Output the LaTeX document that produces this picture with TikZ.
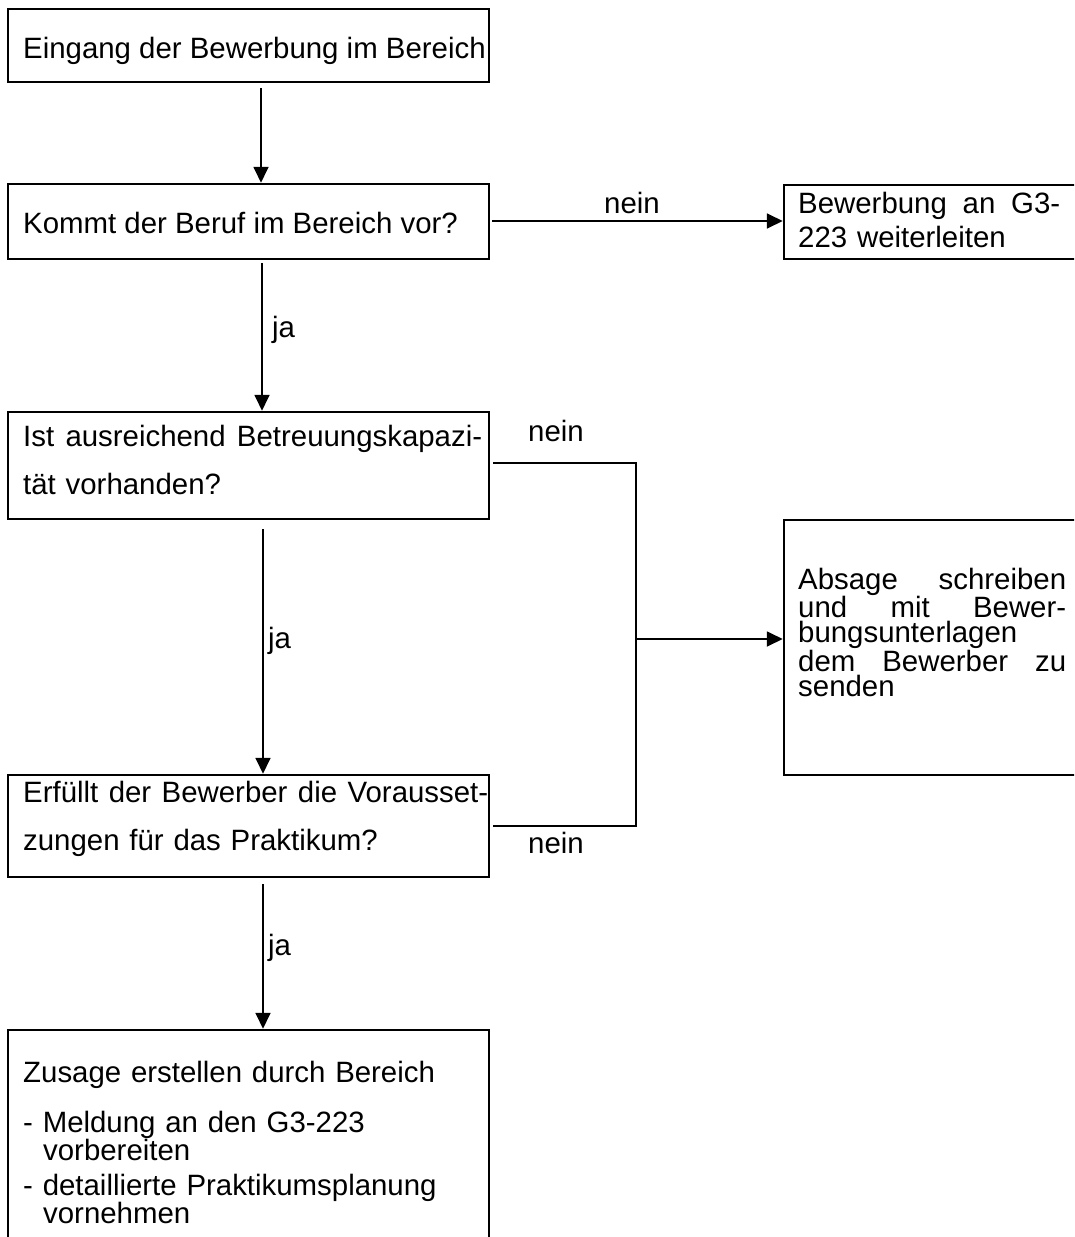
\documentclass[tikz,border=0pt]{standalone}
\usepackage{fontspec}
\setmainfont{Liberation Sans}
\usetikzlibrary{arrows.meta,calc}
\tikzset{
  box/.style={draw, line width=2.5pt, inner sep=0pt},
  txt/.style={inner sep=0pt, anchor=base west, align=left},
  lbl/.style={inner sep=0pt},
  arr/.style={line width=1.8pt, -{Triangle[length=16pt,width=15pt]}},
  conn/.style={line width=1.8pt},
}
\newcommand{\jline}[2]{\leavevmode\hbox to #1{#2}}
\begin{document}
\begin{tikzpicture}[x=1pt,y=-1pt,font=\fontsize{29.4}{34}\selectfont]
\useasboundingbox (0,0) rectangle (1074,1237);
\clip (0,0) rectangle (1074,1237);

% boxes
\node[box, minimum width=481pt, minimum height=73pt]  (b1) at (248.5,45.5) {};
\node[box, minimum width=481pt, minimum height=75pt]  (b2) at (248.5,221.5) {};
\node[box, minimum width=316pt, minimum height=74pt]  (b3) at (942,222) {};
\node[box, minimum width=481pt, minimum height=107pt] (b4) at (248.5,465.5) {};
\node[box, minimum width=481pt, minimum height=102pt] (b5) at (248.5,826) {};
\node[box, minimum width=316pt, minimum height=255pt] (b6) at (942,647.5) {};
\node[box, minimum width=481pt, minimum height=270pt] (b7) at (248.5,1165) {};

% texts
\node[txt] (t1) at (23,58) {Eingang der Bewerbung im Bereich};
\node[txt] (t2) at (23,233) {Kommt der Beruf im Bereich vor?};
\node[txt, text width=264pt, font=\fontsize{29.4}{34}\selectfont] (t3) at (798,213)
  {\jline{262pt}{Bewerbung\hfill an\hfill G3-}\\223 weiterleiten};
\node[txt, text width=462pt, font=\fontsize{29.4}{48}\selectfont] (t4) at (23,446)
  {\jline{459pt}{Ist\hfill ausreichend\hfill Betreuungskapazi-}\\tät vorhanden?};
\node[txt, text width=468pt, font=\fontsize{29.4}{48}\selectfont] (t5) at (23,802)
  {\jline{465pt}{Erfüllt\hfill der\hfill Bewerber\hfill die\hfill Vorausset-}\\zungen für das Praktikum?};
\node[txt, text width=270pt, font=\fontsize{29.4}{25.3}\selectfont] (t6) at (798,589)
  {\jline{268pt}{Absage\hfill schreiben}\\\jline{268pt}{und\hfill mit\hfill Bewer-}\\bungsunterlagen\\\jline{268pt}{dem\hfill Bewerber\hfill zu}\\senden};
\node[txt, text width=462pt, font=\fontsize{29.4}{28}\selectfont] (t7) at (23,1082)
  {Zusage erstellen durch Bereich\\[22pt]- Meldung an den G3-223\\\hspace*{20pt}vorbereiten\\[7pt]- detaillierte Praktikumsplanung\\\hspace*{20pt}vornehmen};

% coordinates
\coordinate (xa) at (261,0);
\coordinate (xb) at (262,0);
\coordinate (xc) at (263,0);
\coordinate (ya) at (0,221);
\coordinate (j1) at (636,463);
\coordinate (j2) at (636,826);
\coordinate (j3) at (636,639);

% connectors
\draw[arr, shorten <=5pt] (b1.south -| xa) -- (b2.north -| xa);
\draw[arr, shorten <=2pt] (b2.east |- ya) -- (b3.west |- ya);
\draw[arr, shorten <=3pt] (b2.south -| xb) -- (b4.north -| xb);
\draw[arr, shorten <=9pt] (b4.south -| xc) -- (b5.north -| xc);
\draw[arr, shorten <=6pt] (b5.south -| xc) -- (b7.north -| xc);
\draw[conn, shorten <=3pt] (b4.east |- j1) -- (j1) -- (j2) -- ($(b5.east |- j2)+(3,0)$);
\draw[arr] (j3) -- (b6.west |- j3);

% labels
\node[lbl, anchor=base] (n1) at (632,213) {nein};
\node[lbl, anchor=base] (n2) at (556,441) {nein};
\node[lbl, anchor=base] (n3) at (556,853) {nein};
\node[lbl, anchor=base west] (y1) at (272,337) {ja};
\node[lbl, anchor=base west] (y2) at (268,648) {ja};
\node[lbl, anchor=base west] (y3) at (268,955) {ja};
\end{tikzpicture}
\end{document}
